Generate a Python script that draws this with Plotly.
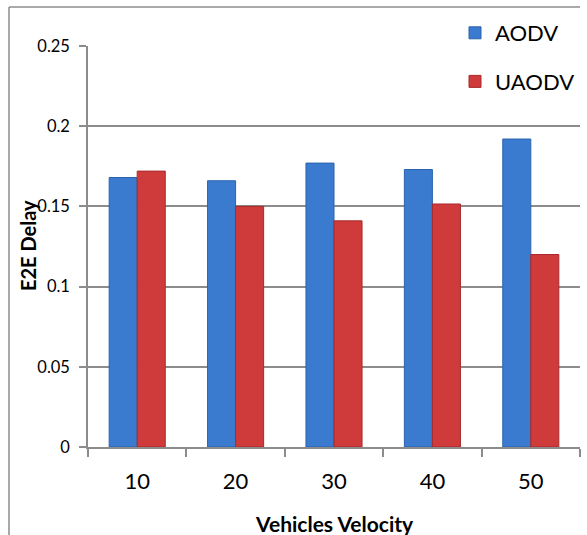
import plotly.graph_objects as go

categories = ["10", "20", "30", "40", "50"]
aodv = [0.168, 0.166, 0.177, 0.173, 0.192]
uaodv = [0.172, 0.150, 0.141, 0.1515, 0.120]
y_ticks = [0, 0.05, 0.1, 0.15, 0.2, 0.25]
y_tick_text = ["0", "0.05", "0.1", "0.15", "0.2", "0.25"]

W, H = 587, 535
L, R, T, B = 88, 7, 46, 88
pw = W - L - R
ph = H - T - B

def px_x(x):
    return (x - L) / pw

def px_y(y):
    return (H - B - y) / ph

FONT = "Lato"
GRID = "#8c8c8c"

fig = go.Figure()
fig.add_trace(go.Bar(
    x=categories, y=aodv, name="AODV", legendgroup="a",
    marker=dict(color="#3a7bd0", line=dict(color="#2c63ad", width=1)),
))
fig.add_trace(go.Bar(
    x=categories, y=uaodv, name="UAODV", legendgroup="b",
    marker=dict(color="#cf3b3b", line=dict(color="#a82a2a", width=1)),
))

fig.update_layout(
    width=W, height=H,
    margin=dict(l=L, r=R, t=T, b=B),
    paper_bgcolor="white", plot_bgcolor="white",
    barmode="group", bargap=0.43, bargroupgap=0,
    font=dict(family=FONT, color="#000000"),
    showlegend=True,
    legend=dict(
        x=px_x(455), y=px_y(12), xanchor="left", yanchor="top",
        font=dict(size=22, family=FONT), traceorder="grouped",
        tracegroupgap=17, bgcolor="rgba(0,0,0,0)",
        itemwidth=30,
    ),
    xaxis=dict(
        type="category", tickson="boundaries", ticks="outside", ticklen=8,
        tickcolor=GRID, tickwidth=1.5, showline=True, linecolor=GRID, linewidth=1.5,
        showgrid=False, tickfont=dict(size=22, family=FONT), range=[-0.5, 4.5],
        ticklabelstandoff=14,
    ),
    yaxis=dict(
        range=[0, 0.25], tickvals=y_ticks, ticktext=y_tick_text,
        ticks="outside", ticklen=7, tickcolor=GRID, tickwidth=1.5,
        showline=True, linecolor=GRID, linewidth=1.5,
        showgrid=True, gridcolor=GRID, gridwidth=1.5,
        tickfont=dict(size=16.5, family=FONT), zeroline=False,
        ticklabelstandoff=6,
    ),
    annotations=[
        dict(text="<b>Vehicles Velocity</b>", xref="paper", yref="paper",
             x=px_x(334), y=px_y(523), xanchor="center", yanchor="middle",
             showarrow=False, font=dict(size=21, family=FONT)),
        dict(text="<b>E2E Delay</b>", xref="paper", yref="paper",
             x=px_x(28), y=px_y(246), xanchor="center", yanchor="middle",
             textangle=-90, showarrow=False, font=dict(size=20, family=FONT)),
    ],
    shapes=[
        dict(type="line", xref="paper", yref="paper", x0=px_x(9), x1=px_x(9),
             y0=px_y(7), y1=px_y(535), line=dict(color=GRID, width=1.5)),
        dict(type="line", xref="paper", yref="paper", x0=px_x(9), x1=px_x(580),
             y0=px_y(7), y1=px_y(7), line=dict(color=GRID, width=1.5)),
    ],
)

fig.write_html("out.html")
